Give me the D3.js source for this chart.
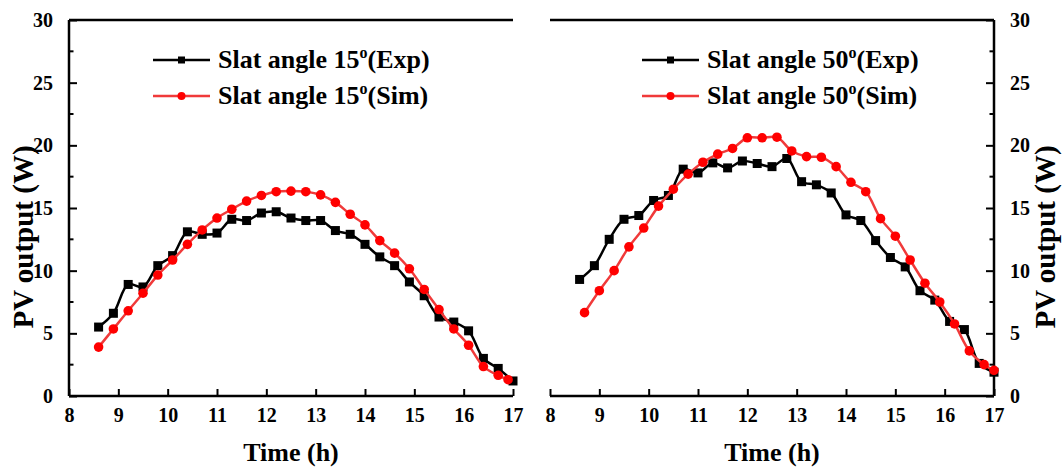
<!DOCTYPE html>
<html>
<head>
<meta charset="utf-8">
<script src="https://cdn.jsdelivr.net/npm/d3@7"></script>
<style>
  html, body { margin: 0; padding: 0; background: #fff; }
  svg { display: block; }
  text { font-family: "Liberation Serif", "Times New Roman", serif; font-weight: bold; fill: #000; }
</style>
</head>
<body>
<script>
// ---------------- data ----------------
const xTicks = [8, 9, 10, 11, 12, 13, 14, 15, 16, 17];
const yTicks = [0, 5, 10, 15, 20, 25, 30];
const yMinorTicks = [2.5, 7.5, 12.5, 17.5, 22.5, 27.5];

// Slat angle 15°
const time15Exp = [8.6, 8.9, 9.2, 9.5, 9.8, 10.1, 10.4, 10.7, 11.0, 11.3, 11.6, 11.9, 12.2, 12.5, 12.8, 13.1, 13.4, 13.7, 14.0, 14.3, 14.6, 14.9, 15.2, 15.5, 15.8, 16.1, 16.4, 16.7, 17.0];
const pv15Exp = [5.5, 6.6, 8.9, 8.7, 10.4, 11.2, 13.1, 12.9, 13.0, 14.1, 14.0, 14.6, 14.7, 14.2, 14.0, 14.0, 13.2, 12.9, 12.1, 11.1, 10.4, 9.1, 8.0, 6.3, 5.9, 5.2, 3.0, 2.2, 1.2];
const time15Sim = [8.6, 8.9, 9.2, 9.5, 9.8, 10.1, 10.4, 10.7, 11.0, 11.3, 11.6, 11.9, 12.2, 12.5, 12.8, 13.1, 13.4, 13.7, 14.0, 14.3, 14.6, 14.9, 15.2, 15.5, 15.8, 16.1, 16.4, 16.7, 16.9];
const pv15Sim = [3.9, 5.35, 6.8, 8.2, 9.65, 10.85, 12.1, 13.25, 14.2, 14.9, 15.55, 16.0, 16.3, 16.35, 16.3, 16.05, 15.45, 14.5, 13.65, 12.4, 11.4, 10.15, 8.5, 6.9, 5.35, 4.05, 2.35, 1.65, 1.3];

// Slat angle 50°
const time50Exp = [8.6, 8.9, 9.2, 9.5, 9.8, 10.1, 10.4, 10.7, 11.0, 11.3, 11.6, 11.9, 12.2, 12.5, 12.8, 13.1, 13.4, 13.7, 14.0, 14.3, 14.6, 14.9, 15.2, 15.5, 15.8, 16.1, 16.4, 16.7, 17.0];
const pv50Exp = [9.3, 10.4, 12.5, 14.1, 14.4, 15.6, 16.0, 18.1, 17.8, 18.6, 18.2, 18.75, 18.55, 18.3, 18.95, 17.1, 16.85, 16.2, 14.45, 14.0, 12.4, 11.05, 10.3, 8.4, 7.65, 5.95, 5.3, 2.6, 1.9];
const time50Sim = [8.7, 9.0, 9.3, 9.6, 9.9, 10.2, 10.5, 10.8, 11.1, 11.4, 11.7, 12.0, 12.3, 12.6, 12.9, 13.2, 13.5, 13.8, 14.1, 14.4, 14.7, 15.0, 15.3, 15.6, 15.9, 16.2, 16.5, 16.8, 17.0];
const pv50Sim = [6.65, 8.4, 10.0, 11.9, 13.4, 15.15, 16.5, 17.7, 18.65, 19.3, 19.75, 20.6, 20.6, 20.65, 19.55, 19.1, 19.05, 18.3, 17.05, 16.3, 14.15, 12.75, 10.85, 9.0, 7.5, 5.75, 3.6, 2.5, 2.05];

const legend15 = ["Slat angle 15", "(Exp)", "(Sim)"];
const legend50 = ["Slat angle 50", "(Exp)", "(Sim)"];
const xTitle = "Time (h)";
const yTitle = "PV output (W)";

// ---------------- drawing ----------------
const W = 1062, H = 469;
const svg = d3.select("body").append("svg").attr("width", W).attr("height", H);

const BLACK = "#000000", RED = "#ff0000", REDLINE = "#f03a3a";
const y = d3.scaleLinear().domain([0, 30]).range([396, 20]);

function zip(t, v) { return t.map((d, i) => ({ t: d, v: v[i] })); }

function panel(opts) {
  const x = d3.scaleLinear().domain([8, 17]).range(opts.xr);
  const g = svg.append("g");

  // top frame line
  g.append("line").attr("x1", x(8)).attr("x2", x(17)).attr("y1", y(30)).attr("y2", y(30))
    .attr("stroke", "#000").attr("stroke-width", 2.5);

  // bottom axis: ticks inside (up)
  const xAxis = d3.axisBottom(x).tickValues(xTicks).tickFormat(d3.format("d")).tickSizeInner(-7).tickSizeOuter(0).tickPadding(12);
  const gx = g.append("g").attr("transform", `translate(0,${y(0)})`).call(xAxis);
  gx.select(".domain").attr("stroke-width", 2.5).attr("d", `M${x(8)},0H${x(17)}`);
  gx.selectAll(".tick line").attr("stroke-width", 2);
  gx.selectAll("text").attr("font-size", 20).attr("font-family", "Liberation Serif").attr("font-weight", "bold");

  // y axis
  const left = opts.side === "left";
  const ax = left ? d3.axisLeft(y) : d3.axisRight(y);
  ax.tickValues(yTicks).tickFormat(d3.format("d")).tickSizeInner(-8).tickSizeOuter(0).tickPadding(16);
  const axX = left ? x(8) : x(17);
  const gy = g.append("g").attr("transform", `translate(${axX},0)`).call(ax);
  gy.select(".domain").attr("stroke-width", 2.5).attr("d", `M0,${y(0)}V${y(30)}`);
  gy.selectAll(".tick line").attr("stroke-width", 2);
  gy.selectAll("text").attr("font-size", 20).attr("font-family", "Liberation Serif").attr("font-weight", "bold");
  // minor ticks
  gy.selectAll(".minor").data(yMinorTicks).join("line").attr("class", "minor")
    .attr("x1", 0).attr("x2", left ? 4.5 : -4.5)
    .attr("y1", d => y(d)).attr("y2", d => y(d))
    .attr("stroke", "#000").attr("stroke-width", 2);

  // axis titles
  g.append("text").attr("x", (x(8) + x(17)) / 2).attr("y", 461).attr("text-anchor", "middle")
    .attr("font-size", 26).text(xTitle);
  g.append("text").attr("transform", `translate(${opts.yTitleX},237) rotate(-90)`)
    .attr("text-anchor", "middle").attr("dominant-baseline", "central")
    .attr("font-size", 29).text(yTitle);

  const line = d3.line().x(d => x(d.t)).y(d => y(d.v)).curve(d3.curveCatmullRom.alpha(0.5));
  const exp = zip(opts.texp, opts.vexp), sim = zip(opts.tsim, opts.vsim);

  g.append("path").datum(exp).attr("d", line).attr("fill", "none").attr("stroke", BLACK).attr("stroke-width", 2.5);
  g.selectAll(".sq").data(exp).join("rect").attr("class", "sq")
    .attr("x", d => x(d.t) - 4.5).attr("y", d => y(d.v) - 4.5).attr("width", 9).attr("height", 9).attr("fill", BLACK);
  g.append("path").datum(sim).attr("d", line).attr("fill", "none").attr("stroke", REDLINE).attr("stroke-width", 2.5);
  g.selectAll(".ci").data(sim).join("circle").attr("class", "ci")
    .attr("cx", d => x(d.t)).attr("cy", d => y(d.v)).attr("r", 4.8).attr("fill", RED);

  // legend
  const lx0 = opts.legX, lx1 = opts.legX + 57, tx = opts.legX + 65;
  const rows = [{ y: 60, c: BLACK, lc: BLACK, m: "sq", s: opts.legend[1] }, { y: 96, c: RED, lc: REDLINE, m: "ci", s: opts.legend[2] }];
  rows.forEach(r => {
    g.append("line").attr("x1", lx0).attr("x2", lx1).attr("y1", r.y).attr("y2", r.y).attr("stroke", r.lc).attr("stroke-width", 2.5);
    const cx = (lx0 + lx1) / 2;
    if (r.m === "sq") g.append("rect").attr("x", cx - 3.5).attr("y", r.y - 3.5).attr("width", 7).attr("height", 7).attr("fill", r.c);
    else g.append("circle").attr("cx", cx).attr("cy", r.y).attr("r", 4).attr("fill", r.c);
    const t = g.append("text").attr("x", tx).attr("y", r.y + 8).attr("font-size", 26);
    t.append("tspan").text(opts.legend[0]);
    t.append("tspan").attr("font-size", 16).attr("dy", -10).text("o");
    t.append("tspan").attr("dy", 10).text(r.s);
  });
}

panel({ xr: [69, 513], side: "left", yTitleX: 23, legX: 153, legend: legend15,
  texp: time15Exp, vexp: pv15Exp, tsim: time15Sim, vsim: pv15Sim });
panel({ xr: [550, 994], side: "right", yTitleX: 1045, legX: 642, legend: legend50,
  texp: time50Exp, vexp: pv50Exp, tsim: time50Sim, vsim: pv50Sim });
</script>
</body>
</html>
